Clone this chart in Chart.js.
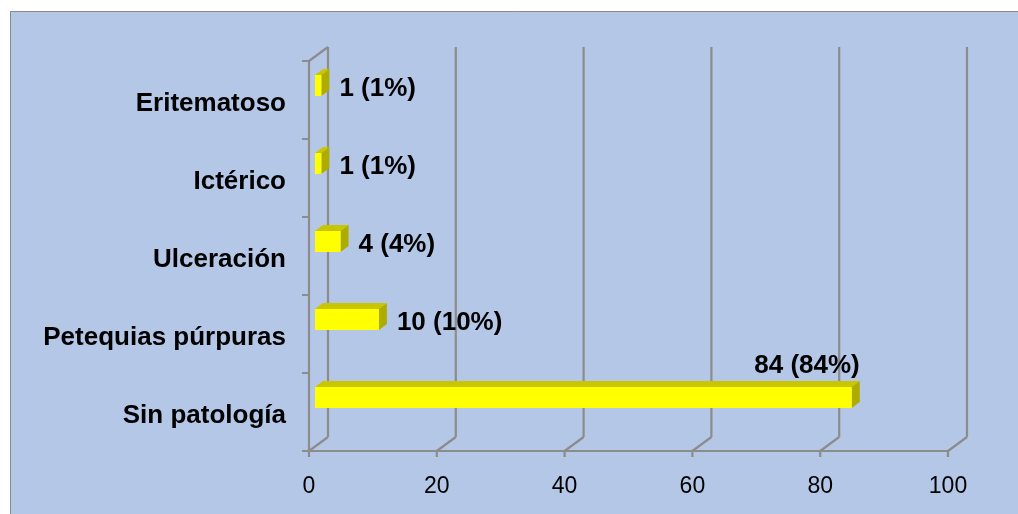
<!DOCTYPE html>
<html>
<head>
<meta charset="utf-8">
<script src="https://cdn.jsdelivr.net/npm/chart.js@4.4.1/dist/chart.umd.min.js"></script>
<style>
body { margin: 0; background: #ffffff; }
#myChart { display: block; }
</style>
</head>
<body>
<canvas id="myChart" width="1018" height="514"></canvas>
<script>
var categories = ["Eritematoso", "Ictérico", "Ulceración", "Petequias púrpuras", "Sin patología"];
var values = [1, 1, 4, 10, 84];
var xTicks = [0, 20, 40, 60, 80, 100];

var total = 0;
for (var i = 0; i < values.length; i++) total += values[i];

var depthX = 19, depthY = 14;     // wall depth
var barShiftX = 6, barShiftY = 14.5;
var boxX = 8, boxY = 6;           // bar depth

var scene3d = {
    id: 'scene3d',
    beforeDraw: function(chart) {
        var ctx = chart.ctx;
        ctx.save();
        ctx.fillStyle = '#ffffff';
        ctx.fillRect(0, 0, chart.width, chart.height);
        ctx.fillStyle = '#B4C7E7';
        ctx.fillRect(10, 11, chart.width - 10, chart.height - 11);
        ctx.strokeStyle = '#8a8a8a';
        ctx.lineWidth = 1;
        ctx.beginPath();
        ctx.moveTo(10.5, chart.height);
        ctx.lineTo(10.5, 11.5);
        ctx.lineTo(chart.width, 11.5);
        ctx.stroke();
        ctx.restore();
    },
    beforeDatasetsDraw: function(chart) {
        var ctx = chart.ctx;
        var a = chart.chartArea;
        var xs = chart.scales.x;
        ctx.save();
        ctx.strokeStyle = '#8C8C8C';
        ctx.lineWidth = 2.2;
        ctx.beginPath();
        // back wall + floor lines
        for (var i = 0; i < xTicks.length; i++) {
            var fx = xs.getPixelForValue(xTicks[i]);
            ctx.moveTo(fx + depthX, a.bottom - depthY);
            ctx.lineTo(fx + depthX, a.top - depthY);
            ctx.moveTo(fx, a.bottom);
            ctx.lineTo(fx + depthX, a.bottom - depthY);
            ctx.moveTo(fx, a.bottom);
            ctx.lineTo(fx, a.bottom + 6);
        }
        // front axes
        ctx.moveTo(a.left, a.bottom);
        ctx.lineTo(a.right, a.bottom);
        ctx.moveTo(a.left, a.top);
        ctx.lineTo(a.left, a.bottom);
        ctx.moveTo(a.left, a.top);
        ctx.lineTo(a.left + depthX, a.top - depthY);
        // category ticks
        var band = (a.bottom - a.top) / categories.length;
        for (var j = 0; j <= categories.length; j++) {
            var ty = a.top + j * band;
            ctx.moveTo(a.left - 7, ty);
            ctx.lineTo(a.left, ty);
        }
        ctx.stroke();
        ctx.restore();
    },
    afterDatasetsDraw: function(chart) {
        var ctx = chart.ctx;
        var a = chart.chartArea;
        var meta = chart.getDatasetMeta(0);
        ctx.save();
        for (var i = 0; i < meta.data.length; i++) {
            var el = meta.data[i];
            var h = el.height;
            var x0 = el.base + barShiftX;
            var x1 = el.x + barShiftX;
            var y0 = el.y - barShiftY - h / 2;
            var y1 = y0 + h;
            // top face
            ctx.fillStyle = '#C9C600';
            ctx.beginPath();
            ctx.moveTo(x0, y0);
            ctx.lineTo(x0 + boxX, y0 - boxY);
            ctx.lineTo(x1 + boxX, y0 - boxY);
            ctx.lineTo(x1, y0);
            ctx.closePath();
            ctx.fill();
            // side face
            ctx.fillStyle = '#AFAC00';
            ctx.beginPath();
            ctx.moveTo(x1, y0);
            ctx.lineTo(x1 + boxX, y0 - boxY);
            ctx.lineTo(x1 + boxX, y1 - boxY);
            ctx.lineTo(x1, y1);
            ctx.closePath();
            ctx.fill();
            // front face
            ctx.fillStyle = '#FFFF00';
            ctx.fillRect(x0, y0, x1 - x0, h);

            // value label
            var pct = Math.round(values[i] / total * 100);
            var txt = values[i] + ' (' + pct + '%)';
            ctx.font = 'bold 26px "Liberation Sans", Arial, sans-serif';
            ctx.fillStyle = '#000000';
            var w = ctx.measureText(txt).width;
            var lx = x1 + boxX + 10;
            if (lx + w > a.right + depthX) {
                ctx.textAlign = 'right';
                ctx.textBaseline = 'alphabetic';
                ctx.fillText(txt, x1 + boxX, y0 - boxY - 8);
            } else {
                ctx.textAlign = 'left';
                ctx.textBaseline = 'middle';
                ctx.fillText(txt, lx, y0 + h / 2 + 3);
            }
        }
        ctx.restore();
    }
};

var canvas = document.getElementById('myChart');
var myChart = new Chart(canvas.getContext('2d'),
{
    type: 'bar',
    data:
    {
        labels: categories,
        datasets:
        [{
            data: values,
            backgroundColor: 'rgba(0,0,0,0)',
            borderWidth: 0,
            barThickness: 21
        }]
    },
    options:
    {
        indexAxis: 'y',
        responsive: false,
        animation: false,
        devicePixelRatio: 1,
        layout: { padding: { top: 61, right: 70, bottom: 0, left: 0 } },
        plugins: { legend: { display: false }, tooltip: { enabled: false } },
        scales:
        {
            x: {
                min: 0, max: 100,
                afterBuildTicks: function(scale) {
                    scale.ticks = xTicks.map(function(v) { return { value: v }; });
                },
                afterFit: function(scale) { scale.height = 63; },
                grid: { display: false, drawTicks: false },
                border: { display: false },
                ticks: {
                    padding: 22,
                    color: '#000000',
                    font: { family: '"Liberation Sans", Arial, sans-serif', size: 23 }
                }
            },
            y: {
                afterFit: function(scale) { scale.width = 309; },
                grid: { display: false, drawTicks: false },
                border: { display: false },
                ticks: {
                    padding: 23,
                    labelOffset: 4,
                    color: '#000000',
                    font: { family: '"Liberation Sans", Arial, sans-serif', size: 26, weight: 'bold' }
                }
            }
        }
    },
    plugins: [scene3d]
});
</script>
</body>
</html>
